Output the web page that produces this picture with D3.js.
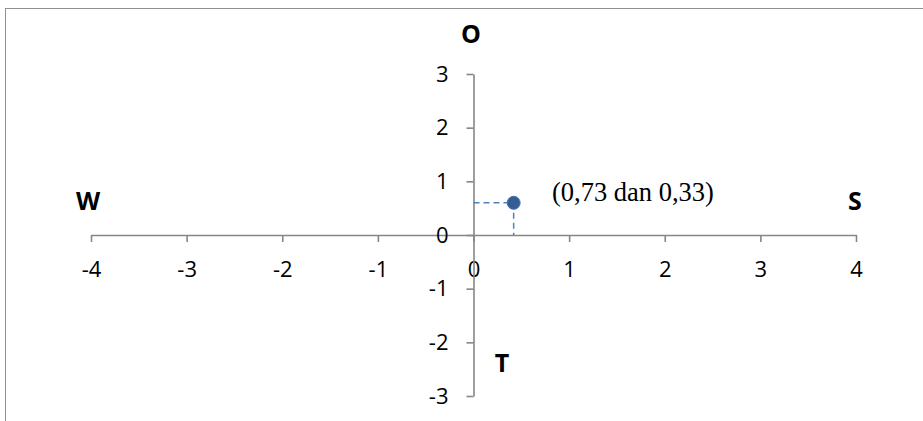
<!DOCTYPE html>
<html>
<head>
<meta charset="utf-8">
<script src="https://cdn.jsdelivr.net/npm/d3@7"></script>
<style>
  html, body { margin: 0; padding: 0; background: #fff; }
  svg { display: block; }
</style>
</head>
<body>
<svg id="chart" width="923" height="421"></svg>
<script>
// ---- data ----
const xTicks = [-4, -3, -2, -1, 0, 1, 2, 3, 4];
const yTicks = [-3, -2, -1, 0, 1, 2, 3];
const pointX = [0.42];
const pointY = [0.6];
const pointLabel = ["(0,73 dan 0,33)"];
const directionNames = ["O", "W", "S", "T"];

const svg = d3.select("#chart");

// chart frame (clipped at right/bottom)
svg.append("rect")
  .attr("x", 5.5).attr("y", 8.5)
  .attr("width", 1000).attr("height", 1000)
  .attr("fill", "#fff")
  .attr("stroke", "#8f8f8f")
  .attr("stroke-width", 1);

const x = d3.scaleLinear().domain([-4, 4]).range([91, 856]);
const y = d3.scaleLinear().domain([-3, 3]).range([396, 74]);

const axisColor = "#868686";
const tickFont = "'Open Sans', sans-serif";

// x axis
const gx = svg.append("g")
  .attr("transform", `translate(0,${y(0)})`)
  .call(d3.axisBottom(x).tickValues(xTicks).tickSize(7).tickPadding(19).tickFormat(d3.format("d")).tickSizeOuter(0));

// y axis
const gy = svg.append("g")
  .attr("transform", `translate(${x(0)},0)`)
  .call(d3.axisLeft(y).tickValues(yTicks).tickSize(7).tickPadding(18).tickFormat(d3.format("d")).tickSizeOuter(0));

[gx, gy].forEach(g => {
  g.select(".domain").attr("stroke", axisColor).attr("stroke-width", 1.6);
  g.selectAll(".tick line").attr("stroke", axisColor).attr("stroke-width", 1.6);
  g.selectAll(".tick text")
    .attr("fill", "#000")
    .style("font-family", tickFont)
    .style("font-size", "22px");
});
gx.selectAll(".tick text").text(d => d < 0 ? "-" + Math.abs(d) : d);
gy.selectAll(".tick text").text(d => d < 0 ? "-" + Math.abs(d) : d);

// dashed drop lines
const px = pointX[0], py = pointY[0];
svg.append("line")
  .attr("x1", x(0)).attr("x2", x(px))
  .attr("y1", y(py)).attr("y2", y(py))
  .attr("stroke", "#4f81bd").attr("stroke-width", 1.5)
  .attr("stroke-dasharray", "6,4");
svg.append("line")
  .attr("x1", x(px)).attr("x2", x(px))
  .attr("y1", y(py)).attr("y2", y(0))
  .attr("stroke", "#4f81bd").attr("stroke-width", 1.5)
  .attr("stroke-dasharray", "6,4");

// point
svg.selectAll("circle.pt")
  .data(pointX.map((d, i) => [d, pointY[i]]))
  .enter().append("circle")
  .attr("class", "pt")
  .attr("cx", d => x(d[0])).attr("cy", d => y(d[1]))
  .attr("r", 6.5)
  .attr("fill", "#345d94")
  .attr("stroke", "#4a74ab")
  .attr("stroke-width", 1);

// point annotation
svg.append("text")
  .attr("x", 552).attr("y", 201)
  .style("font-family", "'Liberation Serif', 'Times New Roman', serif")
  .style("font-size", "26.5px")
  .attr("fill", "#000")
  .text(pointLabel[0]);

// direction labels
const dirPos = [[471, 43], [88, 210], [855, 210], [502, 372]];
svg.selectAll("text.dir")
  .data(directionNames)
  .enter().append("text")
  .attr("class", "dir")
  .attr("x", (d, i) => dirPos[i][0])
  .attr("y", (d, i) => dirPos[i][1])
  .attr("text-anchor", "middle")
  .style("font-family", tickFont)
  .style("font-weight", "bold")
  .style("font-size", "25px")
  .attr("fill", "#000")
  .text(d => d);
</script>
</body>
</html>
